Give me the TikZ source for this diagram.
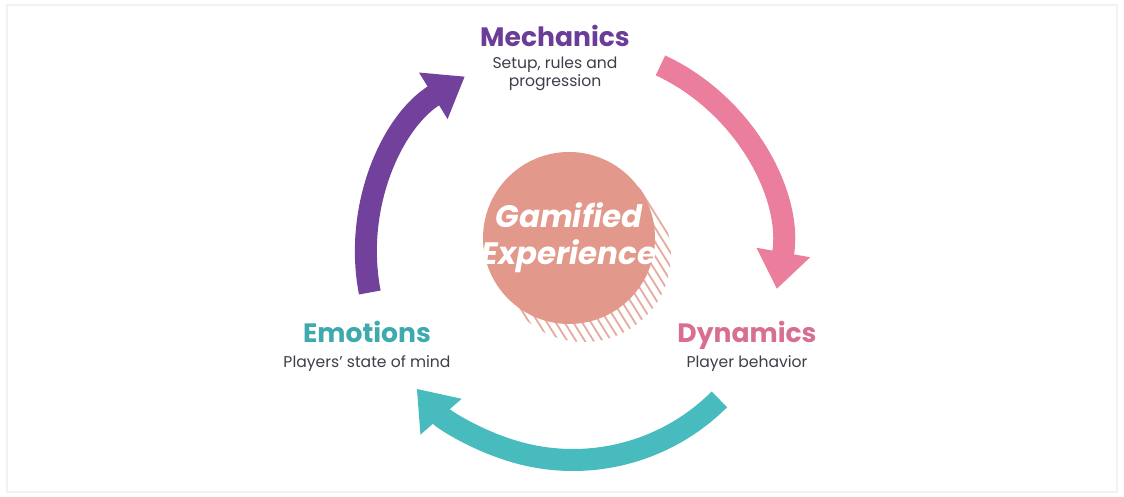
\documentclass[tikz,border=0pt]{standalone}
\usepackage{fontspec}
\setmainfont{Poppins}
\usetikzlibrary{arrows.meta,positioning}

\definecolor{mechpurple}{HTML}{6B3D98}
\definecolor{mecharrow}{HTML}{71419C}
\definecolor{dynpink}{HTML}{D96F8F}
\definecolor{dynarrow}{HTML}{EB7D9D}
\definecolor{emoteal}{HTML}{3FAAAD}
\definecolor{emoarrow}{HTML}{48BBBF}
\definecolor{hubfill}{HTML}{E2988A}
\definecolor{hubhatch}{HTML}{E6AB9F}
\definecolor{subgray}{HTML}{3E3E4A}

\tikzstyle{phasetitle} = [inner sep=0pt, anchor=base, font=\bfseries\fontsize{13.3}{16}\selectfont]
\tikzstyle{phasesub} = [inner sep=0pt, align=center, text=subgray, font=\fontsize{7.8}{8.8}\selectfont]
\tikzstyle{looparrow} = [line width=11pt, -{Triangle[length=18.5pt,width=26pt]}]
\tikzstyle{hatchline} = [draw=hubhatch, line width=0.9pt]

\begin{document}
\begin{tikzpicture}[x=0.5pt, y=0.5pt]
    \useasboundingbox (0,0) rectangle (1124,497);
    \draw [black!5, line width=1pt] (7,5) rectangle (1117,492);

    \coordinate (ring) at (573,244);
    \coordinate (hubshadow) at (584,242);

    % striped crescent behind the hub
    \begin{scope}
        \clip (hubshadow) circle [radius=43.5pt];
        \foreach \k in {-18,...,18}
            \draw [hatchline] ([shift={(\k*4.4pt,0)}]hubshadow) ++(-58:-60pt) -- ++(-58:120pt);
    \end{scope}
    \node (hub) [circle, fill=hubfill, minimum size=86pt, inner sep=0pt] at (569,259) {};
    \node [align=center, text=white, font=\bfseries\itshape\fontsize{15.5}{18.5}\selectfont] at (hub) {Gamified\\Experience};

    % the three phases
    \node (mech) [phasetitle, text=mechpurple] at (555,450) {Mechanics};
    \node (mechsub) [phasesub, below=5pt of mech.base] {Setup, rules and\\progression};
    \node (dyn) [phasetitle, text=dynpink] at (747,154) {Dynamics};
    \node (dynsub) [phasesub, below=6pt of dyn.base] {Player behavior};
    \node (emo) [phasetitle, text=emoteal] at (367,154) {Emotions};
    \node (emosub) [phasesub, below=6pt of emo.base] {Players' state of mind};

    % arrows around the ring
    \draw [looparrow, mecharrow] ([shift={(191:103.5pt)}]ring) arc [start angle=191, end angle=121.5, radius=103.5pt];
    \draw [looparrow, dynarrow] ([shift={(65:103.5pt)}]ring) arc [start angle=65, end angle=-10, radius=103.5pt];
    \draw [looparrow, emoarrow] ([shift={(-45:103.5pt)}]ring) arc [start angle=-45, end angle=-139, radius=103.5pt];
\end{tikzpicture}
\end{document}
